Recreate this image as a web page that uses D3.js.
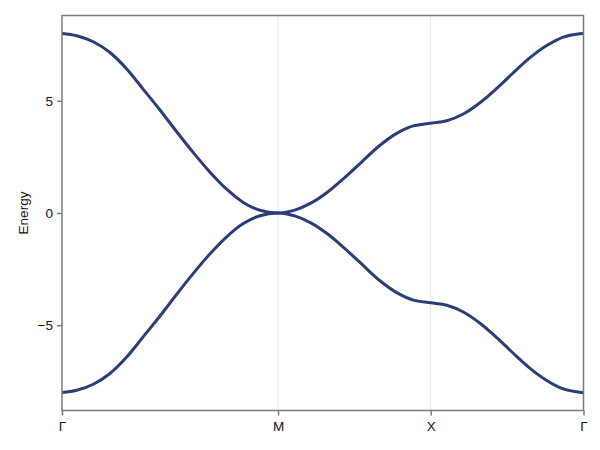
<!DOCTYPE html>
<html lang="en">
<head>
  <meta charset="UTF-8" />
  <title>Band structure</title>
  <style>
    html, body {
      margin: 0; padding: 0;
      background: white;
      font-family: "Liberation Sans", Arial, sans-serif;
    }
    svg { display: block; }
    .frame { fill: none; stroke: #7a7a7a; stroke-width: 1.5px; }
    .grid line { stroke: #e6e6e6; stroke-width: 1px; }
    .band { fill: none; stroke: #2b3d78; stroke-width: 3px; }
    .tick-label { font-size: 13.5px; fill: #111; }
  </style>
</head>
<body>
  <svg width="600" height="450"></svg>

  <script src="https://d3js.org/d3.v7.min.js"></script>
  <script>
    // high-symmetry points along the k-path
    const symLabels = ["Γ", "M", "X", "Γ"];
    const symPos = [0, 4.443, 7.584, 10.726];

    const kPoints = [
      0, 0.302, 0.644, 0.987, 1.331, 1.672, 2.016, 2.359, 2.701, 3.044, 3.387, 3.729, 4.072, 4.443,
      4.786, 5.127, 5.471, 5.814, 6.156, 6.540, 6.884, 7.225, 7.584,
      7.912, 8.254, 8.597, 8.941, 9.282, 9.626, 9.969, 10.311, 10.654, 10.726
    ];
    const upperBand = [
      8.00, 7.90, 7.63, 7.15, 6.42, 5.51, 4.59, 3.62, 2.69, 1.82, 1.06, 0.47, 0.12, 0,
      0.13, 0.45, 0.95, 1.58, 2.26, 3.02, 3.55, 3.88, 4.00,
      4.11, 4.41, 4.91, 5.55, 6.25, 6.92, 7.46, 7.84, 7.99, 8.00
    ];
    const lowerBand = [
      -8.00, -7.90, -7.63, -7.15, -6.42, -5.51, -4.59, -3.62, -2.69, -1.82, -1.06, -0.47, -0.12, 0,
      -0.13, -0.45, -0.95, -1.58, -2.26, -3.02, -3.55, -3.88, -4.00,
      -4.11, -4.41, -4.91, -5.55, -6.25, -6.92, -7.46, -7.84, -7.99, -8.00
    ];
    const yTicks = [-5, 0, 5];

    const margin = { top: 15.5, right: 16.5, bottom: 39.5, left: 62 };
    const width = 600, height = 450;

    const svg = d3.select("svg");

    const x = d3.scaleLinear()
      .domain([symPos[0], symPos[symPos.length - 1]])
      .range([margin.left, width - margin.right]);

    const y = d3.scaleLinear()
      .domain([-8.8, 8.8])
      .range([height - margin.bottom, margin.top]);

    // vertical grid at the inner high-symmetry points
    svg.append("g")
      .attr("class", "grid")
      .selectAll("line")
      .data(symPos.slice(1, -1))
      .join("line")
      .attr("x1", d => x(d)).attr("x2", d => x(d))
      .attr("y1", y.range()[1]).attr("y2", y.range()[0]);

    const line = d3.line()
      .x(d => x(d[0]))
      .y(d => y(d[1]))
      .curve(d3.curveCatmullRom.alpha(0.5));

    [upperBand, lowerBand].forEach(band => {
      svg.append("path")
        .attr("class", "band")
        .attr("d", line(kPoints.map((k, i) => [k, band[i]])));
    });

    // frame
    svg.append("rect")
      .attr("class", "frame")
      .attr("x", margin.left)
      .attr("y", margin.top)
      .attr("width", width - margin.left - margin.right)
      .attr("height", height - margin.top - margin.bottom);

    // x axis
    const xAxis = svg.append("g")
      .attr("transform", `translate(0,${height - margin.bottom})`)
      .call(d3.axisBottom(x)
        .tickValues(symPos)
        .tickFormat((d, i) => symLabels[i])
        .tickSize(5)
        .tickPadding(6));
    xAxis.select(".domain").remove();
    xAxis.selectAll(".tick line").attr("stroke", "#7a7a7a").attr("stroke-width", 1.5);
    xAxis.selectAll(".tick text")
      .attr("class", "tick-label")
      .attr("font-family", null).attr("font-size", null);

    // y axis
    const yAxis = svg.append("g")
      .attr("transform", `translate(${margin.left},0)`)
      .call(d3.axisLeft(y)
        .tickValues(yTicks)
        .tickFormat(d => d < 0 ? "\u2212" + Math.abs(d) : d)
        .tickSize(5)
        .tickPadding(4));
    yAxis.select(".domain").remove();
    yAxis.selectAll(".tick line").attr("stroke", "#7a7a7a").attr("stroke-width", 1.5);
    yAxis.selectAll(".tick text")
      .attr("class", "tick-label")
      .attr("font-family", null).attr("font-size", null);

    svg.append("text")
      .attr("transform", `translate(28,${y(0)}) rotate(-90)`)
      .attr("text-anchor", "middle")
      .attr("class", "tick-label")
      .text("Energy");
  </script>
</body>
</html>
